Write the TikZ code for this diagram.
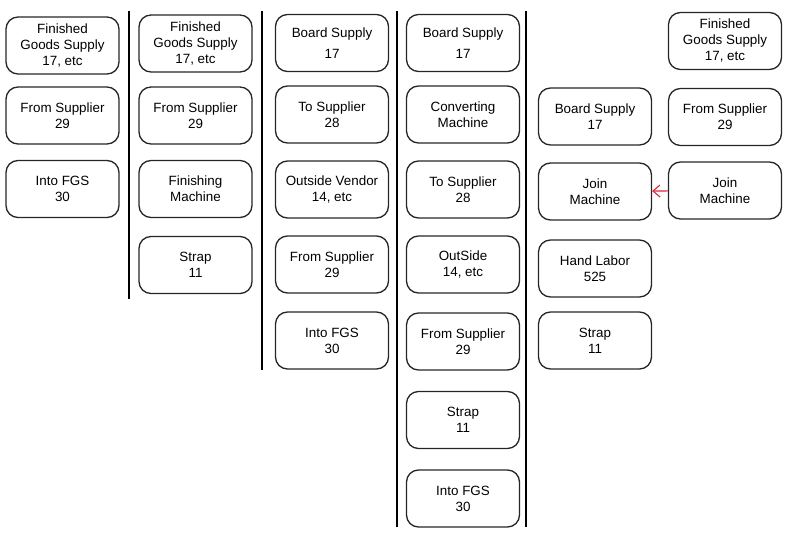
\documentclass[tikz,border=0pt]{standalone}
\usepackage{fontspec}
\setmainfont{Liberation Sans}
\usetikzlibrary{arrows.meta}
\definecolor{flowred}{RGB}{222,36,56}
\tikzset{
  card/.style    = {draw=black!85, rounded corners=12pt, align=center,
                    line width=1.3pt, minimum width=113pt, minimum height=57pt,
                    inner sep=2pt, font=\fontsize{13.4}{16}\selectfont},
  divider/.style = {draw=black, line width=2.2pt},
  flow/.style    = {-{Straight Barb[length=7pt,width=12pt]}, draw=flowred, line width=1.1pt},
}
\begin{document}
\begin{tikzpicture}[x=1pt, y=-1pt]
  \useasboundingbox (0,0) rectangle (786,545);
  % column 1
  \node[card] (fgs1)    at (62.5,45.5)  {Finished\\Goods Supply\\17, etc};
  \node[card] (sup1)    at (62.5,115.5) {From Supplier\\29};
  \node[card] (into1)   at (62.5,189)   {Into FGS\\30};
  % column 2
  \node[card] (fgs2)    at (195.5,43.5)  {Finished\\Goods Supply\\17, etc};
  \node[card] (sup2)    at (195.5,115.5) {From Supplier\\29};
  \node[card] (finish2) at (195.5,189)   {Finishing\\Machine};
  \node[card] (strap2)  at (195.5,265)   {Strap\\11};
  % column 3
  \node[card] (board3)  at (332,43)    {Board Supply\\[5pt]17};
  \node[card] (tosup3)  at (332,114.5) {To Supplier\\28};
  \node[card] (vendor3) at (332,189.5) {Outside Vendor\\14, etc};
  \node[card] (sup3)    at (332,264.5) {From Supplier\\29};
  \node[card] (into3)   at (332,340.5) {Into FGS\\30};
  % column 4
  \node[card] (board4)  at (463,43)    {Board Supply\\[5pt]17};
  \node[card] (conv4)   at (463,114.5) {Converting\\Machine};
  \node[card] (tosup4)  at (463,189.5) {To Supplier\\28};
  \node[card] (out4)    at (463,264.5) {OutSide\\14, etc};
  \node[card] (sup4)    at (463,341.5) {From Supplier\\29};
  \node[card] (strap4)  at (463,420)   {Strap\\11};
  \node[card] (into4)   at (463,498.5) {Into FGS\\30};
  % column 5
  \node[card] (board5)  at (595,116.5) {Board Supply\\17};
  \node[card] (join5)   at (595,191.5) {Join\\Machine};
  \node[card] (labor5)  at (595,268.5) {Hand Labor\\525};
  \node[card] (strap5)  at (595,340.5) {Strap\\11};
  % column 6
  \node[card] (fgs6)    at (725,41)    {Finished\\Goods Supply\\17, etc};
  \node[card] (sup6)    at (725,117)   {From Supplier\\29};
  \node[card] (join6)   at (725,190.5) {Join\\Machine};
  % dividers
  \foreach \x/\y in {129/299, 262/370, 397/527, 526/527}
    \draw[divider] (\x,11) -- (\x,\y);
  \draw[flow] (join6) -- (join5);
\end{tikzpicture}
\end{document}
